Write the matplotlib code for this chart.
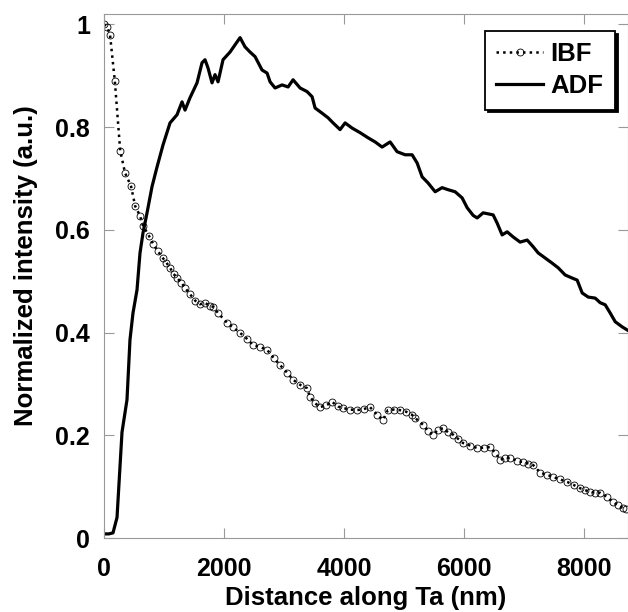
import matplotlib.pyplot as plt

plt.rcParams['font.family'] = ['Liberation Sans', 'DejaVu Sans']
plt.rcParams['font.weight'] = 'bold'

# IBF profile (normalized)
ibf_x = [0, 50, 100, 180, 270, 350, 450, 520, 600, 650, 750, 820, 900, 980, 1040, 1100,
         1160, 1220, 1290, 1350, 1430, 1520, 1600, 1680, 1760, 1820, 1900, 2050, 2150,
         2270, 2380, 2480, 2600, 2720, 2830, 2930, 3050, 3150, 3270, 3380, 3430, 3520,
         3600, 3700, 3800, 3900, 3980, 4100, 4220, 4330, 4430, 4550, 4650, 4730, 4830,
         4930, 5030, 5130, 5180, 5320, 5400, 5480, 5560, 5650, 5730, 5820, 5900, 5980,
         6100, 6220, 6330, 6430, 6520, 6600, 6680, 6770, 6880, 6980, 7070, 7150, 7270,
         7380, 7480, 7600, 7720, 7830, 7930, 8020, 8100, 8180, 8270, 8380, 8480, 8560,
         8650, 8700]
ibf_y = [1.0, 0.995, 0.98, 0.89, 0.754, 0.711, 0.685, 0.646, 0.627, 0.608, 0.588, 0.572,
         0.558, 0.545, 0.536, 0.526, 0.514, 0.506, 0.497, 0.487, 0.475, 0.462, 0.455,
         0.458, 0.452, 0.450, 0.438, 0.419, 0.410, 0.399, 0.388, 0.376, 0.372, 0.366,
         0.350, 0.337, 0.322, 0.308, 0.298, 0.292, 0.275, 0.262, 0.255, 0.258, 0.265,
         0.256, 0.253, 0.250, 0.249, 0.251, 0.255, 0.240, 0.230, 0.249, 0.250, 0.249,
         0.246, 0.240, 0.234, 0.220, 0.208, 0.201, 0.210, 0.214, 0.206, 0.201, 0.193,
         0.185, 0.180, 0.175, 0.176, 0.177, 0.166, 0.152, 0.156, 0.156, 0.150, 0.148,
         0.145, 0.142, 0.127, 0.123, 0.119, 0.114, 0.109, 0.103, 0.097, 0.093, 0.090,
         0.088, 0.088, 0.080, 0.070, 0.064, 0.058, 0.057]

# ADF profile (normalized)
adf_x = [0, 80, 150, 217, 267, 300, 383, 433, 483, 550, 600, 650, 717, 800, 883, 983,
         1100, 1217, 1300, 1350, 1433, 1550, 1633, 1683, 1733, 1800, 1850, 1900, 1983,
         2100, 2183, 2267, 2350, 2433, 2517, 2633, 2717, 2767, 2850, 2967, 3067, 3150,
         3267, 3383, 3467, 3517, 3633, 3733, 3817, 3933, 4017, 4133, 4267, 4400, 4517,
         4633, 4767, 4883, 5017, 5133, 5217, 5300, 5400, 5517, 5633, 5733, 5850, 5967,
         6050, 6150, 6217, 6317, 6483, 6550, 6633, 6717, 6817, 6933, 7050, 7150, 7233,
         7350, 7467, 7567, 7683, 7800, 7883, 7967, 8067, 8183, 8267, 8350, 8433, 8517,
         8633, 8717]
adf_y = [0.008, 0.008, 0.01, 0.04, 0.14, 0.206, 0.269, 0.386, 0.438, 0.483, 0.555, 0.594,
         0.633, 0.684, 0.722, 0.765, 0.808, 0.824, 0.849, 0.833, 0.857, 0.886, 0.925,
         0.931, 0.915, 0.886, 0.902, 0.888, 0.931, 0.946, 0.960, 0.974, 0.956, 0.946,
         0.937, 0.911, 0.905, 0.888, 0.876, 0.882, 0.878, 0.892, 0.876, 0.869, 0.859,
         0.837, 0.827, 0.818, 0.808, 0.795, 0.808, 0.798, 0.789, 0.779, 0.771, 0.761,
         0.771, 0.752, 0.746, 0.746, 0.730, 0.703, 0.691, 0.674, 0.682, 0.678, 0.674,
         0.662, 0.643, 0.628, 0.623, 0.633, 0.629, 0.613, 0.590, 0.596, 0.586, 0.576,
         0.580, 0.567, 0.555, 0.545, 0.535, 0.526, 0.512, 0.506, 0.502, 0.477, 0.469,
         0.467, 0.458, 0.454, 0.438, 0.421, 0.411, 0.405]

x_ticks = [0, 2000, 4000, 6000, 8000]
y_ticks = [0, 0.2, 0.4, 0.6, 0.8, 1]
y_tick_labels = ['0', '0.2', '0.4', '0.6', '0.8', '1']

fig = plt.figure(figsize=(6.28, 6.12), dpi=100)
ax = fig.add_axes([0.1656, 0.1209, 0.8344, 0.8562])

ax.plot(ibf_x, ibf_y, color='black', linestyle=':', linewidth=1.8, marker='o',
        markersize=5, markerfacecolor='none', markeredgewidth=0.6, label='IBF')
ax.plot(adf_x, adf_y, color='black', linestyle='-', linewidth=2.3, label='ADF')

ax.set_xlim(0, 8730)
ax.set_ylim(0, 1.02)
ax.set_xticks(x_ticks)
ax.set_yticks(y_ticks)
ax.set_yticklabels(y_tick_labels)
ax.tick_params(direction='in', length=7, color='#999999', labelsize=18,
               top=True, right=True)
ax.tick_params(axis='x', pad=14)
ax.tick_params(axis='y', pad=10)
for s in ax.spines.values():
    s.set_color('#999999')

ax.set_xlabel('Distance along Ta (nm)', fontsize=18.5, fontweight='bold', labelpad=3)
ax.set_ylabel('Normalized intensity (a.u.)', fontsize=18.5, fontweight='bold')
ax.yaxis.set_label_coords(-0.126, 0.52)

leg = ax.legend(loc='upper right', bbox_to_anchor=(0.975, 0.968), borderaxespad=0,
                fontsize=18.5, frameon=True, fancybox=False,
                shadow={'color': 'black', 'alpha': 1}, numpoints=1,
                handlelength=1.8, borderpad=0.45, labelspacing=0.3, handletextpad=0.3)
leg.get_frame().set_edgecolor('black')
leg.get_frame().set_linewidth(1.3)
leg.get_frame().set_alpha(1)

fig.savefig('out.png', dpi=100)
